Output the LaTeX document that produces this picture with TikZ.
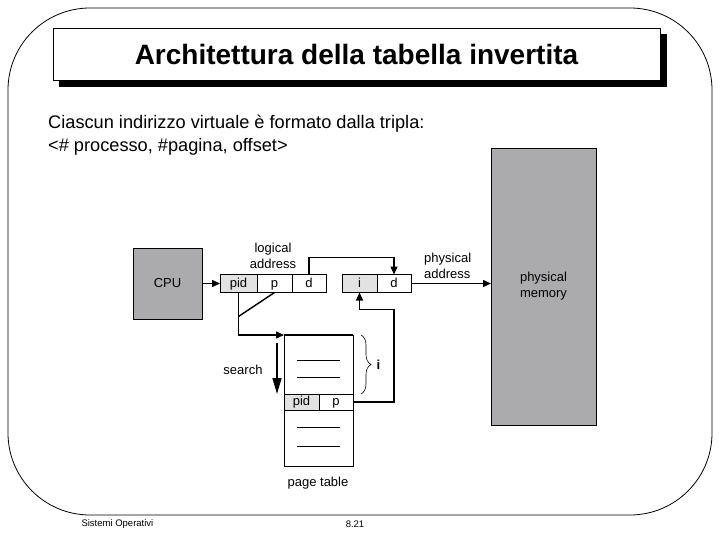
\documentclass[tikz,border=0pt]{standalone}
\usepackage{fontspec}
\setmainfont{Liberation Sans}
\usetikzlibrary{arrows.meta,decorations.pathreplacing}
\definecolor{memgray}{HTML}{ABABAD}
\definecolor{cellgray}{HTML}{E2E2E2}

\begin{document}
\begin{tikzpicture}[x=1pt,y=-1pt,
  unit/.style={draw, line width=0.6pt, inner sep=0pt, outer sep=0pt, align=center, font=\fontsize{13}{16}\selectfont},
  cell/.style={unit, minimum height=18pt, text height=9.5pt, text depth=2.5pt},
  lbl/.style={align=center, inner sep=0pt, font=\fontsize{13}{16}\selectfont},
  flow/.style={-{Triangle[length=8pt,width=7pt]}, line width=1.4pt}]
\useasboundingbox (0,0) rectangle (720,540);
% slide frame and title
\draw[line width=0.8pt, rounded corners=82pt] (8,8) rectangle (712,515);
\fill (59,34) rectangle (667,87);
\node[draw, fill=white, line width=0.8pt, minimum width=607pt, minimum height=52pt, font=\fontsize{28}{32}\selectfont\bfseries] (title) at (356.5,54) {Architettura della tabella invertita};
\node[anchor=north west, align=left, inner sep=0pt, font=\fontsize{18.2}{23}\selectfont] (intro) at (48,115) {Ciascun indirizzo virtuale è formato dalla tripla:\\<\# processo, \#pagina, offset>};
% address boxes
\node[unit, fill=memgray, minimum width=69pt, minimum height=71pt] (cpu) at (167.5,283.5) {CPU};
\node[cell, fill=cellgray, minimum width=37pt] (lpid) at (238.5,283.5) {pid};
\node[cell, minimum width=35pt] (lp) at (274.5,283.5) {p};
\node[cell, minimum width=34pt] (ld) at (309,283.5) {d};
\node[cell, fill=cellgray, minimum width=35pt] (pi) at (359.5,283.5) {i};
\node[cell, minimum width=34pt] (pd) at (394,283.5) {d};
\node[unit, fill=memgray, minimum width=105pt, minimum height=277pt] (mem) at (543.5,286.5) {physical\\memory};
\node[lbl] (laddr) at (273,256) {logical\\address};
\node[lbl, align=left, anchor=west] (paddr) at (424,266) {physical\\address};
% page table
\node[unit, minimum width=69pt, minimum height=131pt] (ptab) at (318.5,400.5) {};
\node[cell, fill=cellgray, minimum width=35pt, minimum height=16pt] (ppid) at (301.5,402) {pid};
\node[cell, minimum width=34pt, minimum height=16pt] (pp) at (336,402) {p};
\foreach \y in {360,377,427,446}
  \draw[line width=0.6pt] (297,\y) -- (340,\y);
\draw[line width=1.4pt] (ptab.north west) -- (ptab.north east);
\node[lbl] (srch) at (243,370) {search};
\node[lbl] (ptlbl) at (318,483) {page table};
% connectors
\draw[flow] (cpu) -- (lpid);
\draw[flow] (ld.north) -- ++(0,-17) -| (pd.north);
\draw[flow] (pd.east) -- (mem.west |- pd.east);
\draw[flow] (lpid.south) |- (ptab.north west);
\draw[line width=1.4pt] (lp.south) -- ([yshift=-24pt]lpid.south);
\draw[-{Triangle[length=16pt,width=9pt]}, line width=1.4pt] ([shift={(-7pt,-8pt)}]ptab.north west) -- ([xshift=-7pt]ppid.north west);
\draw[flow] (pp.east) -| ([yshift=-17pt]pd.south) -| (pi.south);
\draw[line width=0.6pt, decorate, decoration={brace, amplitude=10pt}] ([xshift=8pt]ptab.north east) -- ([xshift=8pt]pp.north east) node[midway, right=12pt, font=\fontsize{13}{15}\selectfont\bfseries] (ilbl) {i};
% footer
\node[anchor=west, font=\fontsize{9.5}{11}\selectfont] (foot) at (78,524) {Sistemi Operativi};
\node[font=\fontsize{9.5}{11}\selectfont] (pgno) at (355,524) {8.21};
\end{tikzpicture}
\end{document}
